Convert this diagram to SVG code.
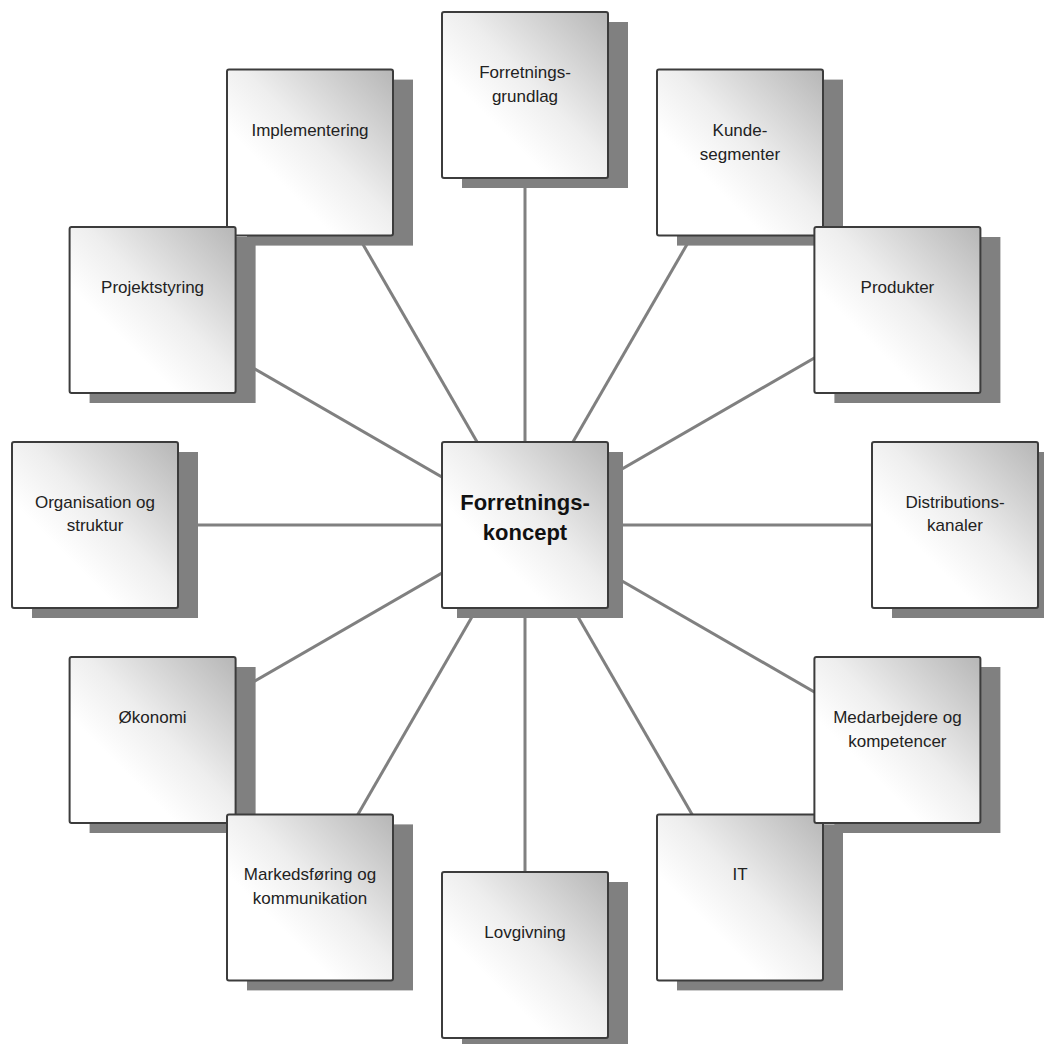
<svg xmlns="http://www.w3.org/2000/svg" width="1044" height="1044" viewBox="0 0 1044 1044">
<defs>
<linearGradient id="g" x1="1" y1="0" x2="0" y2="1">
<stop offset="0" stop-color="#b6b6b6"/>
<stop offset="0.45" stop-color="#eeeeee"/>
<stop offset="0.68" stop-color="#ffffff"/>
<stop offset="1" stop-color="#ffffff"/>
</linearGradient>
<style>
.sh{fill:#808080}
.bx{fill:url(#g);stroke:#3c3c3c;stroke-width:2}
.t{font-family:"Liberation Sans",Arial,sans-serif;font-size:17px;fill:#222;text-anchor:middle}
.tc{font-family:"Liberation Sans",Arial,sans-serif;font-size:22px;font-weight:bold;fill:#111;text-anchor:middle}
.c line{stroke:#808080;stroke-width:3}
</style>
</defs>
<rect width="1044" height="1044" fill="#fff"/>
<g class="c" id="connectors">
<line x1="525" y1="525" x2="525" y2="95"/>
<line x1="525" y1="525" x2="740" y2="152.6"/>
<line x1="525" y1="525" x2="897.4" y2="310"/>
<line x1="525" y1="525" x2="955" y2="525"/>
<line x1="525" y1="525" x2="897.4" y2="740"/>
<line x1="525" y1="525" x2="740" y2="897.4"/>
<line x1="525" y1="525" x2="525" y2="955"/>
<line x1="525" y1="525" x2="310" y2="897.4"/>
<line x1="525" y1="525" x2="152.6" y2="740"/>
<line x1="525" y1="525" x2="95" y2="525"/>
<line x1="525" y1="525" x2="152.6" y2="310"/>
<line x1="525" y1="525" x2="310" y2="152.6"/>
</g>
<g id="n-center">
<rect class="sh" x="457" y="452" width="166" height="166"/>
<rect class="bx" x="442" y="442" width="166" height="166" rx="2"/>
<text class="tc" x="525" y="510">Forretnings-</text>
<text class="tc" x="525" y="540">koncept</text>
</g>
<g id="n-forretningsgrundlag">
<rect class="sh" x="462" y="22" width="166" height="166"/>
<rect class="bx" x="442" y="12" width="166" height="166" rx="2"/>
<text class="t" x="525" y="78">Forretnings-</text>
<text class="t" x="525" y="102">grundlag</text>
</g>
<g id="n-kundesegmenter">
<rect class="sh" x="677" y="79.6" width="166" height="166"/>
<rect class="bx" x="657" y="69.6" width="166" height="166" rx="2"/>
<text class="t" x="740" y="136">Kunde-</text>
<text class="t" x="740" y="160">segmenter</text>
</g>
<g id="n-produkter">
<rect class="sh" x="834.4" y="237" width="166" height="166"/>
<rect class="bx" x="814.4" y="227" width="166" height="166" rx="2"/>
<text class="t" x="897.4" y="293">Produkter</text>
</g>
<g id="n-distributionskanaler">
<rect class="sh" x="892" y="452" width="166" height="166"/>
<rect class="bx" x="872" y="442" width="166" height="166" rx="2"/>
<text class="t" x="955" y="508">Distributions-</text>
<text class="t" x="955" y="531">kanaler</text>
</g>
<g id="n-it">
<rect class="sh" x="677" y="824.4" width="166" height="166"/>
<rect class="bx" x="657" y="814.4" width="166" height="166" rx="2"/>
<text class="t" x="740" y="880">IT</text>
</g>
<g id="n-medarbejdere">
<rect class="sh" x="834.4" y="667" width="166" height="166"/>
<rect class="bx" x="814.4" y="657" width="166" height="166" rx="2"/>
<text class="t" x="897.4" y="723">Medarbejdere og</text>
<text class="t" x="897.4" y="747">kompetencer</text>
</g>
<g id="n-lovgivning">
<rect class="sh" x="462" y="882" width="166" height="166"/>
<rect class="bx" x="442" y="872" width="166" height="166" rx="2"/>
<text class="t" x="525" y="938">Lovgivning</text>
</g>
<g id="n-okonomi">
<rect class="sh" x="89.6" y="667" width="166" height="166"/>
<rect class="bx" x="69.6" y="657" width="166" height="166" rx="2"/>
<text class="t" x="152.6" y="723">Økonomi</text>
</g>
<g id="n-markedsforing">
<rect class="sh" x="247" y="824.4" width="166" height="166"/>
<rect class="bx" x="227" y="814.4" width="166" height="166" rx="2"/>
<text class="t" x="310" y="880">Markedsføring og</text>
<text class="t" x="310" y="904">kommunikation</text>
</g>
<g id="n-organisation">
<rect class="sh" x="32" y="452" width="166" height="166"/>
<rect class="bx" x="12" y="442" width="166" height="166" rx="2"/>
<text class="t" x="95" y="508">Organisation og</text>
<text class="t" x="95" y="531">struktur</text>
</g>
<g id="n-implementering">
<rect class="sh" x="247" y="79.6" width="166" height="166"/>
<rect class="bx" x="227" y="69.6" width="166" height="166" rx="2"/>
<text class="t" x="310" y="136">Implementering</text>
</g>
<g id="n-projektstyring">
<rect class="sh" x="89.6" y="237" width="166" height="166"/>
<rect class="bx" x="69.6" y="227" width="166" height="166" rx="2"/>
<text class="t" x="152.6" y="293">Projektstyring</text>
</g>
</svg>
